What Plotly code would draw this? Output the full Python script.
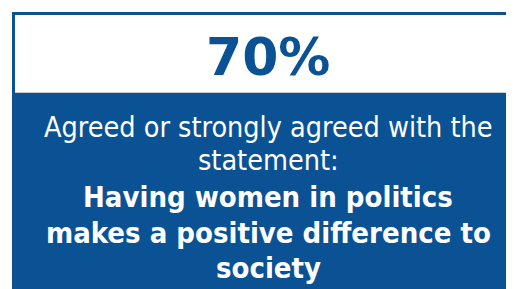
import plotly.graph_objects as go

# ---- data ----
headline_value = 70
headline_unit = "%"
statement_intro = ["Agreed or strongly agreed with the", "statement:"]
statement_bold = ["Having women in politics", "makes a positive difference to", "society"]

# ---- style / layout ----
BLUE = "#0A5294"
W, H = 514, 289
OFF = 8  # page body margin offset; axis ranges chosen so data coords = screen pixels
FONT = "DejaVu Sans Condensed, DejaVu Sans, Verdana, sans-serif"
FONT_BIG = "DejaVu Sans, Verdana, sans-serif"
intro_centers = [127, 160]
bold_centers = [197, 233, 268]
text_x = 268

fig = go.Figure()

shapes = [
    dict(type="rect", xref="x", yref="y", x0=13.5, y0=13.5, x1=540, y1=320,
         line=dict(color=BLUE, width=3), fillcolor="white", layer="below"),
    dict(type="line", xref="x", yref="y", x0=15, y0=92.5, x1=540, y1=92.5,
         line=dict(color="#c8ccd4", width=1), layer="below"),
    dict(type="rect", xref="x", yref="y", x0=12, y0=93, x1=540, y1=320,
         line=dict(width=0), fillcolor=BLUE, layer="below"),
]

annotations = [
    dict(x=text_x, y=57, xref="x", yref="y", text=f"<b>{headline_value}{headline_unit}</b>",
         showarrow=False, xanchor="center", yanchor="middle",
         font=dict(family=FONT_BIG, size=52, color=BLUE)),
]
for line, yc in zip(statement_intro, intro_centers):
    annotations.append(dict(x=text_x, y=yc, xref="x", yref="y", text=line, showarrow=False,
                            xanchor="center", yanchor="middle",
                            font=dict(family=FONT, size=28.5, color="white")))
for line, yc in zip(statement_bold, bold_centers):
    annotations.append(dict(x=text_x, y=yc, xref="x", yref="y", text=f"<b>{line}</b>", showarrow=False,
                            xanchor="center", yanchor="middle",
                            font=dict(family=FONT, size=29, color="white")))

fig.update_layout(
    width=W, height=H, autosize=False,
    margin=dict(l=0, r=0, t=0, b=0),
    paper_bgcolor="white", plot_bgcolor="white",
    xaxis=dict(range=[OFF, OFF + W], visible=False, fixedrange=True),
    yaxis=dict(range=[OFF + H, OFF], visible=False, fixedrange=True),
    shapes=shapes, annotations=annotations, showlegend=False,
)

fig.write_html("out.html", config={"displayModeBar": False})
